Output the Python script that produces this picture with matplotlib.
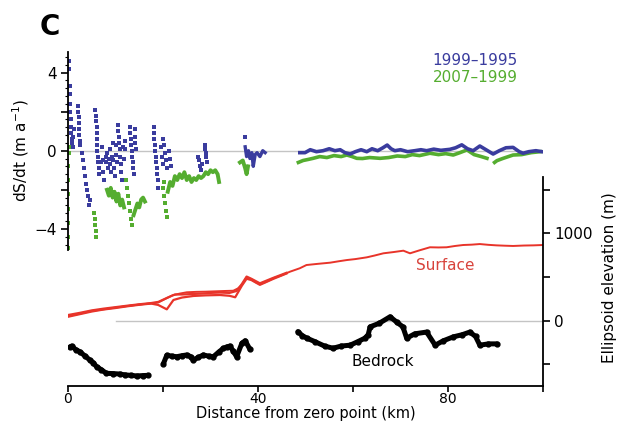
import matplotlib
matplotlib.use("Agg")
import matplotlib.pyplot as plt
import numpy as np

# --- surface elevation change, dS/dt (m/a) along the flowline ---
# scattered points in the lower 42 km
blue_dot_km = [0.3, 0.3, 0.4, 0.4, 0.5, 0.5, 0.6, 0.6, 0.7, 0.8, 0.9, 1.0, 1.1, 1.2,
               2.2, 2.2, 2.3, 2.3, 2.4, 2.4, 2.5, 2.5,
               3.0, 3.2, 3.4, 3.6, 3.8, 4.0, 4.3, 4.6, 4.4,
               5.7, 5.8, 5.9, 6.0, 6.1, 6.1, 6.2, 6.2, 6.3, 6.4, 6.5, 6.6, 6.9, 7.2, 7.3, 7.4, 7.5,
               7.9, 8.1, 8.3, 8.4, 8.6, 8.8, 8.9, 9.1, 9.2, 9.4, 9.5, 9.7, 9.8, 10.0, 10.1, 10.3,
               10.5, 10.6, 10.7, 10.8, 10.9, 11.0, 11.1, 11.2, 11.3, 11.5, 11.7, 11.9, 12.1,
               13.0, 13.1, 13.2, 13.3, 13.4, 13.5, 13.6, 13.7, 13.8, 14.0, 14.1, 14.2, 14.3,
               18.0, 18.1, 18.2, 18.3, 18.4, 18.5, 18.6, 18.7, 18.8, 18.9, 19.0, 19.5, 19.7, 19.9,
               20.1, 20.2, 20.4, 20.6, 20.8, 21.3, 21.5, 21.7,
               27.3, 27.5, 27.7, 28.0, 28.3, 28.8, 28.9, 29.0, 29.1, 29.2, 37.2]
blue_dot_ds = [4.6, 4.2, 3.3, 2.9, 2.4, 2.0, 1.6, 1.2, 0.9, 0.6, 0.4, 0.2, 0.7, 1.1,
               2.3, 2.0, 1.7, 1.4, 1.1, 0.8, 0.5, 0.3,
               -0.1, -0.5, -0.9, -1.3, -1.7, -2.0, -2.3, -2.5, -2.8,
               2.1, 1.8, 1.5, 1.2, 0.9, 0.6, 0.3, 0.0, -0.3, -0.6, -0.9, -1.2, -0.6, 0.2, -0.5, -1.1, -1.5,
               -0.3, -0.6, -0.1, -0.9, -0.4, 0.1, -0.7, -1.1, -0.3, 0.4, -0.5, -0.9, -1.3, -0.2, 0.3, -0.6,
               1.3, 1.0, 0.7, 0.4, 0.1, -0.3, -0.7, -1.1, -1.5, 0.2, -0.4, 0.5, 0.1,
               1.2, 0.9, 0.6, 0.3, 0.0, -0.3, -0.6, -0.9, -1.2, 1.1, 0.7, 0.4, 0.1,
               1.2, 0.9, 0.6, 0.3, 0.0, -0.3, -0.6, -0.9, -1.2, -1.5, -1.9, 0.2, -0.3, -0.7,
               0.6, 0.3, -0.1, -0.5, -0.9, 0.0, -0.4, -0.8,
               -0.3, -0.5, -0.8, -1.0, -0.7, 0.3, 0.1, -0.1, -0.3, -0.6, 0.7]

green_dot_km = [0.2, 0.3, 0.1, 0.1, 0.1, 0.1, 0.1, 0.1, 0.1,
                5.5, 5.6, 5.7, 5.8, 5.9,
                12.2, 12.4, 12.6, 12.8, 13.0, 13.2, 13.4,
                20.0, 20.2, 20.4, 20.6, 20.8, 20.3]
green_dot_ds = [0.2, -0.1, -0.8, -1.5, -2.2, -3.0, -3.7, -4.4, -5.0,
                -3.2, -3.5, -3.8, -4.1, -4.4,
                -1.5, -1.9, -2.3, -2.7, -3.1, -3.5, -3.8,
                -1.9, -2.3, -2.7, -3.1, -3.4, -1.6]

# denser runs drawn as thick traces
blue_run_km = [37.3, 37.6, 38.0, 38.3, 38.7, 39.0, 39.4, 39.8, 40.4, 41.0, 41.5]
blue_run_ds = [0.2, -0.3, 0.0, -0.4, -0.1, -0.8, -0.2, -0.1, -0.3, 0.0, -0.1]

green_run_km = [8.2, 8.6, 9.0, 9.4, 9.8, 10.2, 10.6, 11.0, 11.4, 11.8, np.nan,
                13.8, 14.2, 14.6, 15.0, 15.4, 15.8, 16.2, np.nan,
                21.0, 21.5, 22.0, 22.5, 23.0, 23.5, 24.0, 24.5, 25.0, 25.5, 26.0, 26.5,
                27.0, 27.5, 28.0, 28.5, 29.0, 29.5, 30.0, 30.5, 31.0, 31.5, 31.8, np.nan,
                36.2, 36.8, 37.3, 37.6, 37.9]
green_run_ds = [-2.0, -2.3, -1.9, -2.4, -2.1, -2.6, -2.2, -2.8, -2.5, -2.9, np.nan,
                -3.3, -3.0, -2.7, -2.9, -2.5, -2.4, -2.6, np.nan,
                -2.1, -1.6, -1.8, -1.3, -1.5, -1.2, -1.4, -1.1, -1.5, -1.3, -1.6, -1.4,
                -1.5, -1.3, -1.4, -1.3, -1.1, -1.2, -1.0, -1.1, -1.0, -1.2, -1.6, np.nan,
                -0.6, -0.5, -0.9, -1.2, -0.8]

# upper 50 km, continuous
blue_km = [48.8, 49.9, 51.0, 52.3, 53.7, 55.0, 56.2, 57.3, 58.3, 59.4, 60.5, 61.7, 62.9,
           64.0, 65.2, 66.3, 67.2, 68.0, 68.8, 70.0, 71.5, 73.0, 74.3, 75.5, 77.0, 78.5,
           80.4, 81.6, 82.9, 84.1, 85.3, 86.7, 88.0, 89.5, 90.8, 92.2, 93.7, 95.0, 95.8,
           97.0, 98.5, 99.8]
blue_ds = [-0.1, -0.1, 0.05, -0.05, 0.0, 0.1, 0.0, 0.05, -0.1, -0.17, -0.05, 0.05, -0.05,
           0.1, 0.0, 0.15, 0.29, 0.1, 0.0, 0.05, -0.05, 0.0, 0.05, 0.0, 0.08, 0.02,
           0.07, 0.15, 0.3, 0.1, 0.0, 0.24, 0.05, -0.17, 0.0, 0.15, 0.17, -0.05, -0.13,
           -0.05, 0.0, -0.05]

green_km = [48.5, 49.5, 50.5, 51.6, 53.0, 54.5, 56.0, 57.5, 58.7, 59.8, 60.8, 62.0, 63.5,
            65.7, 67.5, 69.3, 71.0, 72.5, 74.0, 76.2, 78.0, 79.5, 81.1, 82.5, 84.0, 85.5,
            87.0, 88.2, np.nan, 89.8, 90.3, 91.5, 93.7, 95.5, 97.5, 99.4]
green_ds = [-0.6, -0.5, -0.45, -0.39, -0.3, -0.35, -0.25, -0.3, -0.22, -0.3, -0.39, -0.4, -0.35,
            -0.39, -0.35, -0.27, -0.3, -0.2, -0.25, -0.13, -0.2, -0.15, -0.22, -0.1, 0.04, -0.2,
            -0.3, -0.39, np.nan, -0.6, -0.51, -0.4, -0.22, -0.2, -0.1, -0.05]

# --- ellipsoid elevation (m) ---
surf_a_km = [0, 2.5, 5, 7.5, 10, 12.5, 15, 17.5, 19, 20.5, 22, 23.5, 25, 27, 29, 31, 33,
             34.8, 35.8, 36.6, 37.6, 38.6, 39.5, 40.4, 41.5, 43.2, 45, 46.7, 48.8, 50.2,
             52.5, 55.2, 57, 58.7, 60.5, 62.9, 64.5, 66.4, 68.5, 70.6, 72, 74, 76.2, 78,
             79.7, 81.5, 83.2, 85, 86.7, 88.5, 90.2, 92, 93.7, 96, 98, 100]
surf_a_m = [55, 80, 112, 130, 150, 168, 185, 198, 208, 250, 290, 310, 325, 330, 332, 336, 340,
            343, 370, 410, 496, 473, 440, 420, 440, 485, 520, 560, 600, 637,
            650, 664, 680, 694, 705, 725, 745, 771, 785, 801, 771, 805, 840, 838,
            840, 855, 866, 870, 877, 868, 862, 858, 855, 860, 862, 866]
surf_b_km = [0, 2.5, 5, 7.5, 10, 12.5, 15, 17.5, 19, 20.8, 22.2, 24, 26.4, 29, 32, 34, 35.2,
             36.6, 37.6, 38.6, 40.4, 43.2, 46]
surf_b_m = [45, 75, 105, 128, 145, 165, 182, 196, 180, 130, 237, 265, 283, 290, 294, 285, 268,
            400, 480, 465, 410, 478, 540]
surf_c_km = [0, 2.5, 5, 7.5, 10, 12.5, 15, 17.5, 19, 21, 22.5, 24, 26, 28, 30, 32, 34, 35.5,
             36.6, 37.6, 38.6, 40.4, 43.2, 46]
surf_c_m = [65, 90, 118, 138, 155, 172, 188, 202, 215, 265, 300, 300, 305, 310, 318, 322, 318,
            340, 420, 505, 480, 428, 490, 548]

bed1_km = [0.4, 0.8, 1.6, 2.5, 3.5, 4.6, 5.3, 6.0, 7.0, 8.1, 9.5, 10.9, 12.0, 13.2, 14.5, 15.7, 16.9]
bed1_m = [-300, -290, -330, -355, -400, -450, -480, -526, -560, -602, -605, -610, -620, -625, -632, -628, -625]
bed2_km = [20.1, 20.8, 21.8, 22.9, 24.0, 25.0, 25.8, 26.4, 27.4, 28.5, 29.6, 30.6, 31.7, 32.7,
           33.4, 34.1, 34.8, 35.5, 36.6, 37.3, 38.3]
bed2_m = [-490, -395, -405, -412, -400, -392, -410, -450, -420, -392, -405, -412, -360, -316,
          -300, -290, -350, -412, -259, -229, -327]
bed3_km = [48.4, 49.3, 50.3, 52.0, 54.0, 55.8, 57.5, 59.4, 61.0, 62.5, 63.2, 63.6, 65.5, 67.8,
           69.3, 70.5, 71.3, 73.0, 75.5, 77.3, 79.0, 81.1, 83.0, 84.6, 85.8, 86.7, 88.5, 90.3]
bed3_m = [-125, -170, -200, -240, -290, -315, -290, -280, -240, -200, -160, -70, -30, 45,
          -20, -70, -200, -150, -130, -280, -230, -185, -160, -130, -180, -280, -265, -265]

BLUE = '#3a3c9e'
GREEN = '#55ad30'
RED = '#e8342a'

plt.rcParams['font.family'] = 'DejaVu Sans'
plt.rcParams['font.size'] = 11

W, H = 619, 421
fig = plt.figure(figsize=(W / 100, H / 100), dpi=100)


def box(x0, y0, x1, y1):
    return [x0 / W, 1 - y1 / H, (x1 - x0) / W, (y1 - y0) / H]


ax_el = fig.add_axes(box(68, 177, 543, 386))
ax_ds = fig.add_axes(box(68, 52, 543, 250))
for ax in (ax_ds, ax_el):
    ax.set_facecolor('none')
    ax.set_xlim(0, 100)

# upper panel: dS/dt
ax_ds.set_ylim(-5.08, 5.05)
ax_ds.axhline(0, color='#c4c4c4', lw=1, zorder=0)
ax_ds.plot(blue_dot_km, blue_dot_ds, 's', color=BLUE, ms=2.4, mew=0)
ax_ds.plot(green_dot_km, green_dot_ds, 's', color=GREEN, ms=2.3, mew=0)
ax_ds.plot(green_run_km, green_run_ds, color=GREEN, lw=2.8)
ax_ds.plot(blue_run_km, blue_run_ds, color=BLUE, lw=2.4)
ax_ds.plot(green_km, green_ds, color=GREEN, lw=2.6)
ax_ds.plot(blue_km, blue_ds, color=BLUE, lw=2.6)
for s in ('top', 'right', 'bottom'):
    ax_ds.spines[s].set_visible(False)
ax_ds.spines['left'].set_linewidth(1.3)
ax_ds.xaxis.set_visible(False)
ax_ds.set_yticks([-4, -2, 0, 2, 4], labels=['\u22124', '', '0', '', '4'])
ax_ds.yaxis.set_minor_locator(matplotlib.ticker.MultipleLocator(0.4))
ax_ds.tick_params(axis='y', which='major', length=5, width=1.2, pad=3)
ax_ds.tick_params(axis='y', which='minor', length=2.5, width=0.8)
ax_ds.set_ylabel('dS/dt (m a$^{-1}$)')
ax_ds.yaxis.set_label_coords(-0.078, 0.5)
ax_ds.text(76.8, 4.64, '1999\u20131995', color=BLUE, va='center')
ax_ds.text(76.8, 3.77, '2007\u20131999', color=GREEN, va='center')

# lower panel: surface and bed elevation
ax_el.set_ylim(-747, 1644)
ax_el.plot([10, 100], [0, 0], color='#c4c4c4', lw=1, zorder=0)
ax_el.plot(surf_b_km, surf_b_m, color=RED, lw=1.6)
ax_el.plot(surf_c_km, surf_c_m, color=RED, lw=1.6)
ax_el.plot(surf_a_km, surf_a_m, color=RED, lw=1.4)
for km, m in ((bed1_km, bed1_m), (bed2_km, bed2_m), (bed3_km, bed3_m)):
    ax_el.plot(km, m, color='black', lw=3.6, marker='o', ms=3.5, solid_capstyle='round')
for s in ('top', 'left'):
    ax_el.spines[s].set_visible(False)
for s in ('right', 'bottom'):
    ax_el.spines[s].set_linewidth(1.3)
ax_el.yaxis.tick_right()
ax_el.yaxis.set_label_position('right')
ax_el.set_yticks([-500, 0, 500, 1000, 1500], labels=['', '0', '', '1000', ''])
ax_el.set_xticks([0, 20, 40, 60, 80, 100], labels=['0', '', '40', '', '80', ''])
ax_el.tick_params(axis='y', length=5, width=1.2, pad=3)
ax_el.tick_params(axis='x', length=4, width=1.2, pad=0.5, labelsize=10)
ax_el.set_ylabel('Ellipsoid elevation (m)')
ax_el.yaxis.set_label_coords(1.124, 0.517)
ax_el.set_xlabel('Distance from zero point (km)', fontsize=10.5)
ax_el.xaxis.set_label_coords(0.5, -0.094)
ax_el.text(79.4, 637, 'Surface', color='#d8433c', ha='center', va='center')
ax_el.text(66.3, -472, 'Bedrock', color='black', ha='center', va='center')

fig.text(50 / W, 1 - 27 / H, 'C', fontsize=20, fontweight='bold', ha='center', va='center')

fig.savefig('out.png', dpi=100)
